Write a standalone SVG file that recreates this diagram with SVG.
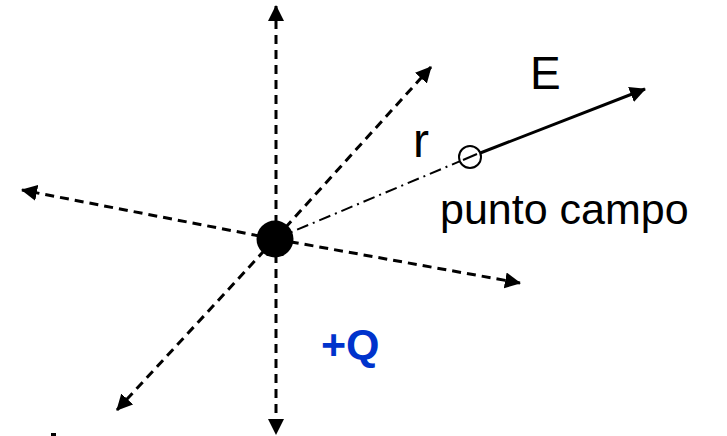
<svg xmlns="http://www.w3.org/2000/svg" width="727" height="436" viewBox="0 0 727 436">
<style>
.dash{stroke:#000;stroke-width:3;fill:none;stroke-dasharray:9 6;marker-end:url(#ah)}
.txt{font-family:"Liberation Sans",Arial,sans-serif;fill:#000}
</style>
<defs>
<marker id="ah" markerUnits="userSpaceOnUse" markerWidth="17" markerHeight="17" refX="15" refY="8" orient="auto">
<path d="M0,0 L16,8 L0,16 z" fill="#000"/>
</marker>
</defs>
<rect width="727" height="436" fill="#fff"/>
<g id="connectors">
<line class="dash" x1="276" y1="239" x2="276" y2="6"/>
<line class="dash" x1="276" y1="239" x2="276" y2="434"/>
<line class="dash" x1="275" y1="239" x2="431" y2="67"/>
<line class="dash" x1="275" y1="239" x2="22" y2="190"/>
<line class="dash" x1="275" y1="239" x2="520" y2="283"/>
<line class="dash" x1="275" y1="239" x2="117" y2="410"/>
<line x1="275" y1="239" x2="470" y2="157" stroke="#000" stroke-width="2" stroke-dasharray="12 5 2 5"/>
<line x1="470" y1="157" x2="645" y2="89" stroke="#000" stroke-width="3" marker-end="url(#ah)"/>
</g>
<g id="charge">
<circle cx="275" cy="239" r="18.5" fill="#000"/>
<text class="txt" x="321" y="359" font-size="43" font-weight="bold" style="fill:#0033cc">+Q</text>
</g>
<g id="field-point">
<circle cx="470" cy="157" r="11" fill="#fff" stroke="#000" stroke-width="2"/>
<line x1="463" y1="160" x2="477" y2="154" stroke="#000" stroke-width="2"/>
<text class="txt" x="440" y="224" font-size="43">punto campo</text>
</g>
<g id="labels">
<text class="txt" x="530" y="89" font-size="46">E</text>
<text class="txt" x="413" y="157" font-size="48">r</text>
</g>
<rect x="51" y="433" width="5" height="3" fill="#000"/>
</svg>
